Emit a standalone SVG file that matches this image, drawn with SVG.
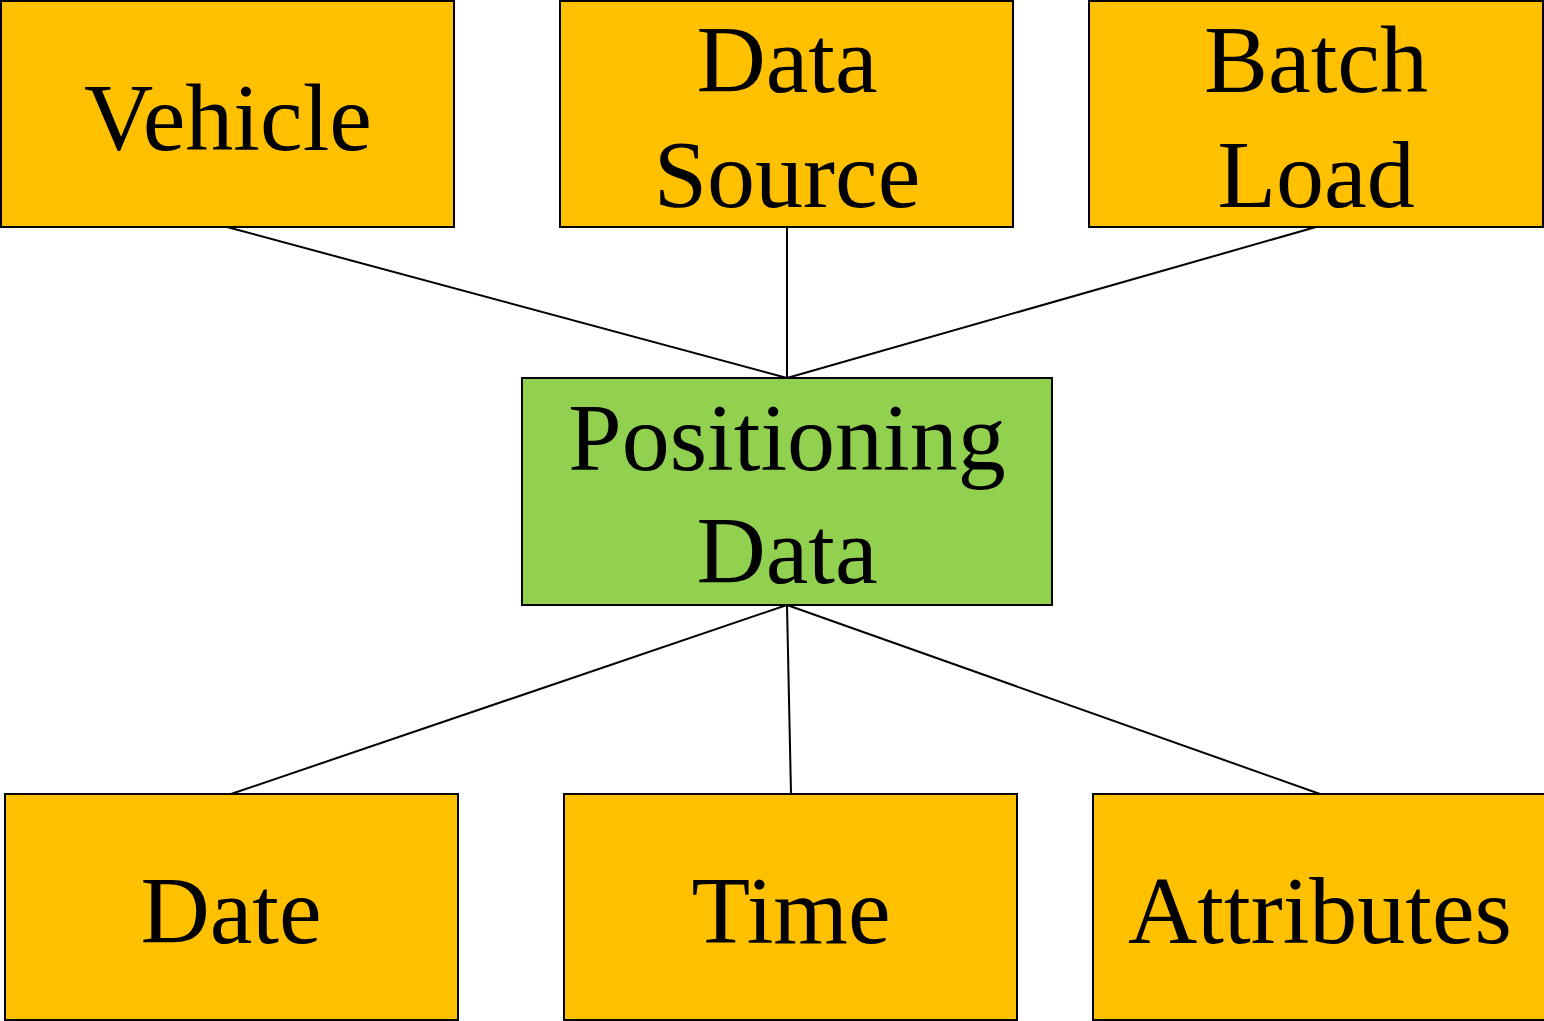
<svg xmlns="http://www.w3.org/2000/svg" width="1544" height="1021" viewBox="0 0 1544 1021">
<style>
.box{fill:#FFC000;stroke:#000;stroke-width:2}
.main{fill:#92D050;stroke:#000;stroke-width:2}
.t{font-family:"Liberation Serif","Times New Roman",serif;font-size:96px;fill:#000;text-anchor:middle}
.c line{stroke:#000;stroke-width:2}
</style>
<rect width="1544" height="1021" fill="#fff"/>
<g id="connectors" class="c">
<line x1="227" y1="227" x2="787" y2="378"/>
<line x1="787" y1="227" x2="787" y2="378"/>
<line x1="1316" y1="227" x2="787" y2="378"/>
<line x1="787" y1="605" x2="231" y2="794"/>
<line x1="787" y1="605" x2="791" y2="794"/>
<line x1="787" y1="605" x2="1320" y2="794"/>
</g>
<g id="vehicle"><rect class="box" x="1" y="1" width="453" height="226"/><text class="t" x="228" y="150">Vehicle</text></g>
<g id="datasource"><rect class="box" x="560" y="1" width="453" height="226"/><text class="t" x="787" y="92">Data</text><text class="t" x="787" y="207">Source</text></g>
<g id="batchload"><rect class="box" x="1089" y="1" width="454" height="226"/><text class="t" x="1316" y="92">Batch</text><text class="t" x="1316" y="207">Load</text></g>
<g id="positioning"><rect class="main" x="522" y="378" width="530" height="227"/><text class="t" x="787" y="470">Positioning</text><text class="t" x="787" y="583">Data</text></g>
<g id="date"><rect class="box" x="5" y="794" width="453" height="226"/><text class="t" x="231" y="943">Date</text></g>
<g id="time"><rect class="box" x="564" y="794" width="453" height="226"/><text class="t" x="791" y="943">Time</text></g>
<g id="attributes"><rect class="box" x="1093" y="794" width="454" height="226"/><text class="t" x="1320" y="943">Attributes</text></g>
</svg>
